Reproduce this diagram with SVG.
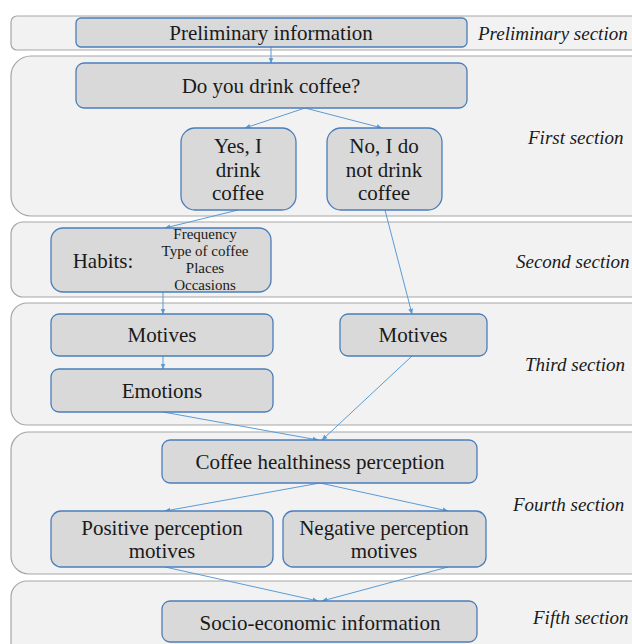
<svg xmlns="http://www.w3.org/2000/svg" width="632" height="644" viewBox="0 0 632 644">
<defs>
<marker id="ah" viewBox="0 0 10 10" refX="9" refY="5" markerWidth="6" markerHeight="6" orient="auto" markerUnits="userSpaceOnUse">
<path d="M0,1 L10,5 L0,9 z" fill="#5b9bd5"/>
</marker>
<style>
.band{fill:#f2f2f2;stroke:#a6a6a6;stroke-width:1.2}
.node{fill:#d9d9d9;stroke:#4a7ebb;stroke-width:1.3}
.t{font-family:"Liberation Serif",serif;font-size:21px;fill:#1a1a1a;text-anchor:middle;dominant-baseline:central}
.s{font-family:"Liberation Serif",serif;font-size:15px;fill:#1a1a1a;text-anchor:middle;dominant-baseline:central}
.sec{font-family:"Liberation Serif",serif;font-size:19px;font-style:italic;fill:#1a1a1a;dominant-baseline:central}
.c{stroke:#5b9bd5;stroke-width:1;fill:none;marker-end:url(#ah)}
</style>
</defs>
<rect width="632" height="644" fill="#ffffff"/>
<g id="bands">
<rect class="band" x="11" y="16" width="640" height="34" rx="6"/>
<rect class="band" x="11" y="56" width="640" height="160" rx="20"/>
<rect class="band" x="11" y="222" width="640" height="75" rx="12"/>
<rect class="band" x="11" y="303" width="640" height="122" rx="16"/>
<rect class="band" x="11" y="432" width="640" height="142" rx="18"/>
<rect class="band" x="11" y="581" width="640" height="80" rx="16"/>
<text class="sec" x="478" y="33">Preliminary section</text>
<text class="sec" x="528" y="137">First section</text>
<text class="sec" x="516" y="261">Second section</text>
<text class="sec" x="525" y="364">Third section</text>
<text class="sec" x="513" y="504">Fourth section</text>
<text class="sec" x="533" y="617">Fifth section</text>
</g>
<g id="connectors">
<line class="c" x1="271" y1="47" x2="271" y2="63"/>
<line class="c" x1="305" y1="108" x2="245" y2="128"/>
<line class="c" x1="305" y1="108" x2="382" y2="128"/>
<line class="c" x1="238" y1="210" x2="165" y2="228"/>
<line class="c" x1="385" y1="210" x2="412" y2="314"/>
<line class="c" x1="163" y1="292" x2="163" y2="314"/>
<line class="c" x1="163" y1="356" x2="163" y2="369"/>
<line class="c" x1="163" y1="412" x2="318" y2="440"/>
<line class="c" x1="412" y1="356" x2="322" y2="440"/>
<line class="c" x1="320" y1="483" x2="165" y2="511"/>
<line class="c" x1="320" y1="483" x2="448" y2="511"/>
<line class="c" x1="165" y1="567" x2="318" y2="601"/>
<line class="c" x1="448" y1="567" x2="322" y2="601"/>
</g>
<g id="n-prelim">
<rect class="node" x="76" y="18" width="391" height="29" rx="5"/>
<text class="t" x="271" y="33">Preliminary information</text>
</g>
<g id="n-drink">
<rect class="node" x="76" y="63" width="391" height="45" rx="8"/>
<text class="t" x="271" y="86">Do you drink coffee?</text>
</g>
<g id="n-yes">
<rect class="node" x="181" y="128" width="115" height="82" rx="14"/>
<text class="t" x="238" y="146">Yes, I</text>
<text class="t" x="238" y="170">drink</text>
<text class="t" x="238" y="193">coffee</text>
</g>
<g id="n-no">
<rect class="node" x="327" y="128" width="115" height="82" rx="14"/>
<text class="t" x="384" y="146">No, I do</text>
<text class="t" x="384" y="170">not drink</text>
<text class="t" x="384" y="193">coffee</text>
</g>
<g id="n-habits">
<rect class="node" x="51" y="228" width="220" height="64" rx="12"/>
<text class="t" x="103" y="261">Habits:</text>
<text class="s" x="205" y="234">Frequency</text>
<text class="s" x="205" y="251">Type of coffee</text>
<text class="s" x="205" y="268">Places</text>
<text class="s" x="205" y="285">Occasions</text>
</g>
<g id="n-motives1">
<rect class="node" x="51" y="314" width="222" height="42" rx="8"/>
<text class="t" x="162" y="335">Motives</text>
</g>
<g id="n-motives2">
<rect class="node" x="340" y="314" width="147" height="42" rx="8"/>
<text class="t" x="413" y="335">Motives</text>
</g>
<g id="n-emotions">
<rect class="node" x="51" y="369" width="222" height="43" rx="8"/>
<text class="t" x="162" y="391">Emotions</text>
</g>
<g id="n-health">
<rect class="node" x="162" y="440" width="315" height="43" rx="8"/>
<text class="t" x="320" y="462">Coffee healthiness perception</text>
</g>
<g id="n-pos">
<rect class="node" x="51" y="511" width="222" height="56" rx="10"/>
<text class="t" x="162" y="528">Positive perception</text>
<text class="t" x="162" y="551">motives</text>
</g>
<g id="n-neg">
<rect class="node" x="283" y="511" width="203" height="56" rx="10"/>
<text class="t" x="384" y="528">Negative perception</text>
<text class="t" x="384" y="551">motives</text>
</g>
<g id="n-socio">
<rect class="node" x="162" y="601" width="315" height="41" rx="8"/>
<text class="t" x="320" y="623">Socio-economic information</text>
</g>
</svg>
